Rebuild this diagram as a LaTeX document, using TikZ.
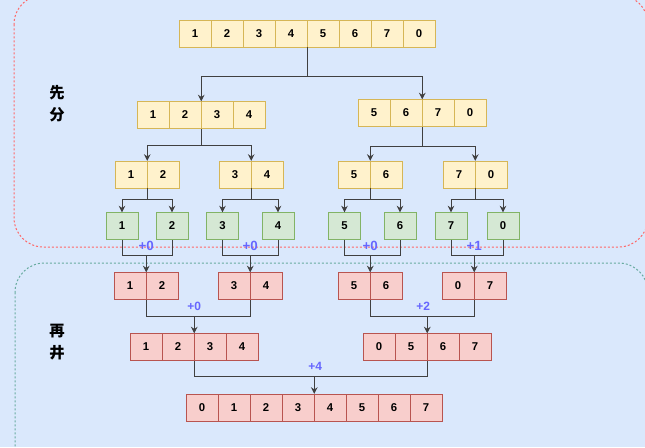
\documentclass[tikz,border=0pt]{standalone}
\usepackage{fontspec}
\setmainfont{Liberation Sans}
\newfontfamily\cjk{Noto Sans CJK SC}
\usepackage{tikz}
\usetikzlibrary{calc,arrows.meta}
\definecolor{bgc}{HTML}{DAE8FC}
\definecolor{yelf}{HTML}{FFF2CC}
\definecolor{yeld}{HTML}{D6B656}
\definecolor{grnf}{HTML}{D5E8D4}
\definecolor{grnd}{HTML}{82B366}
\definecolor{redf}{HTML}{F8CECC}
\definecolor{redd}{HTML}{B85450}
\definecolor{plusc}{HTML}{6666FF}
\definecolor{divc}{HTML}{FF6666}
\definecolor{mrgc}{HTML}{67AB9F}

\begin{document}
\begin{tikzpicture}[x=0.75pt, y=-0.75pt,
  cell/.style={draw, minimum width=24pt, minimum height=20pt, inner sep=0pt, font=\fontsize{8.5}{10}\selectfont\bfseries},
  ycell/.style={cell, fill=yelf, draw=yeld},
  gcell/.style={cell, fill=grnf, draw=grnd},
  rcell/.style={cell, fill=redf, draw=redd},
  link/.style={draw=black!75, line width=0.75pt},
  arr/.style={link, -{Stealth[length=5pt, width=5pt]}},
  gain/.style={text=plusc, font=\fontsize{9}{10}\selectfont\bfseries},
  biggain/.style={gain, font=\fontsize{10}{11}\selectfont\bfseries},
  phase/.style={font=\cjk\bfseries\fontsize{11.5}{16.5}\selectfont, align=center},
  zone/.style={dash pattern=on 1.5pt off 1.5pt, line width=0.75pt, rounded corners=22pt}]
  \useasboundingbox (0,0) rectangle (645,447);
  \clip (0,0) rectangle (645,447);
  \fill[bgc] (0,0) rectangle (645,447);
  \draw[zone, draw=divc] (14,-5) rectangle (648,247);
  \draw[zone, draw=mrgc] (15,263) rectangle (648,480);
  \node[phase] (split) at (57,104) {先\\分};
  \node[phase] (merge) at (57,342.5) {再\\井};

  \foreach \v [count=\i] in {1,2,3,4,5,6,7,0} {\node[ycell] (t\i) at (163+32*\i,33.5) {\v};}
  \foreach \v [count=\i] in {1,2,3,4} {\node[ycell] (a\i) at (121+32*\i,115) {\v};}
  \foreach \v [count=\i] in {5,6,7,0} {\node[ycell] (b\i) at (342+32*\i,113) {\v};}
  \foreach \n/\x/\u/\w in {pa/131/1/2, pb/235/3/4, pc/354/5/6, pd/459/7/0}
    {\node[ycell] (\n1) at (\x,174.5) {\u}; \node[ycell] (\n2) at (\x+32,174.5) {\w};}
  \foreach \v/\x [count=\i] in {1/122, 2/172, 3/222.5, 4/278, 5/344.5, 6/400, 7/451, 0/503}
    {\node[gcell] (g\i) at (\x,226) {\v};}
  \foreach \n/\x/\u/\w in {ra/130/1/2, rb/234/3/4, rc/354/5/6, rd/458/0/7}
    {\node[rcell] (\n1) at (\x,286) {\u}; \node[rcell] (\n2) at (\x+32,286) {\w};}
  \foreach \v [count=\i] in {1,2,3,4} {\node[rcell] (qa\i) at (114+32*\i,347) {\v};}
  \foreach \v [count=\i] in {0,5,6,7} {\node[rcell] (qb\i) at (347+32*\i,347) {\v};}
  \foreach \v [count=\i] in {0,...,7} {\node[rcell] (f\i) at (170+32*\i,407.5) {\v};}

  \coordinate (s0) at ($(t4.south east)+(0,29)$);
  \draw[link] (t4.south east) -- (s0);
  \draw[arr] (s0) -| (a2.north east);
  \draw[arr] (s0) -| (b2.north east);
  \coordinate (s1) at ($(a2.south east)+(0,17)$);
  \draw[link] (a2.south east) -- (s1);
  \draw[arr] (s1) -| (pa1.north east);
  \draw[arr] (s1) -| (pb1.north east);
  \coordinate (s2) at ($(b2.south east)+(0,20)$);
  \draw[link] (b2.south east) -- (s2);
  \draw[arr] (s2) -| (pc1.north east);
  \draw[arr] (s2) -| (pd1.north east);
  \foreach \p/\l/\r in {pa/1/2, pb/3/4, pc/5/6, pd/7/8} {
    \coordinate (s\p) at ($(\p1.south east)+(0,11)$);
    \draw[link] (\p1.south east) -- (s\p);
    \draw[arr] (s\p) -| (g\l.north);
    \draw[arr] (s\p) -| (g\r.north);
  }

  \foreach \p/\l/\r/\t in {ra/1/2/+0, rb/3/4/+0, rc/5/6/+0, rd/7/8/+1} {
    \coordinate (j\p) at ($(\p1.north east)+(0,-17)$);
    \draw[link] (g\l.south) |- (j\p) -| (g\r.south);
    \draw[arr] (j\p) -- (\p1.north east);
    \node[biggain] (t\p) at ($(j\p)+(0,-9)$) {\t};
  }
  \coordinate (jqa) at ($(qa2.north east)+(0,-17)$);
  \draw[link] (ra1.south east) |- (jqa) -| (rb1.south east);
  \draw[arr] (jqa) -- (qa2.north east);
  \node[gain] (tqa) at ($(jqa)+(0,-10)$) {+0};
  \coordinate (jqb) at ($(qb2.north east)+(0,-17)$);
  \draw[link] (rc1.south east) |- (jqb) -| (rd1.south east);
  \draw[arr] (jqb) -- (qb2.north east);
  \node[gain] (tqb) at ($(jqb)+(-4,-10)$) {+2};
  \coordinate (jf) at ($(f4.north east)+(0,-17)$);
  \draw[link] (qa2.south east) |- (jf) -| (qb2.south east);
  \draw[arr] (jf) -- (f4.north east);
  \node[gain] (tf) at ($(jf)+(1,-11)$) {+4};
\end{tikzpicture}
\end{document}
